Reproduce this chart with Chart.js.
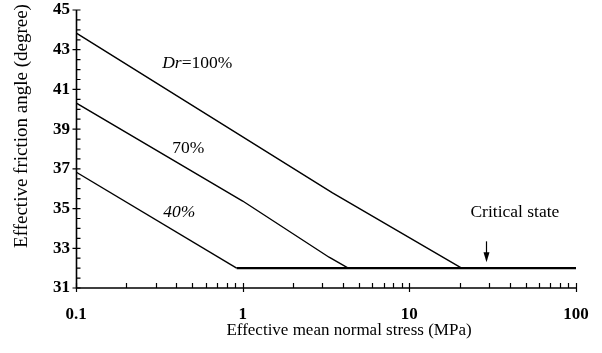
<!DOCTYPE html>
<html>
<head>
<meta charset="utf-8">
<script src="https://cdn.jsdelivr.net/npm/chart.js@4.4.0/dist/chart.umd.min.js"></script>
<style>
  html, body { margin: 0; padding: 0; background: #fff; }
  #wrap { width: 602px; height: 353px; }
</style>
</head>
<body>
<div id="wrap"><canvas id="chart"></canvas></div>
<script>
// data (x = effective mean normal stress in MPa, y = friction angle in degrees)
var dr100X = [0.1, 3.46, 20.6];
var dr100Y = [43.85, 35.79, 32];
var dr70X = [0.1, 1, 3.3, 4.3];
var dr70Y = [40.32, 35.38, 32.55, 32];
var dr40X = [0.1, 0.92];
var dr40Y = [36.84, 32];
var critX = [0.92, 100];
var critY = [32, 32];

// axis ticks
var xMajor = [0.1, 1, 10, 100];
var xMinor = [0.2, 0.3, 0.4, 0.5, 0.6, 0.7, 0.8, 0.9, 2, 3, 4, 5, 6, 7, 8, 9, 20, 30, 40, 50, 60, 70, 80, 90];
var yMajor = [31, 33, 35, 37, 39, 41, 43, 45];
var yMinor = [31.5, 32, 32.5, 33.5, 34, 34.5, 35.5, 36, 36.5, 37.5, 38, 38.5, 39.5, 40, 40.5, 41.5, 42, 42.5, 43.5, 44, 44.5];

// labels on the plot (data coordinates)
var curveLabels = [
  { x: 0.534, y: 42.33, parts: [["Dr", "italic"], ["=100%", "normal"]] },
  { x: 0.472, y: 38.05, parts: [["70%", "normal"]] },
  { x: 0.416, y: 34.83, parts: [["40%", "italic"]] },
  { x: 43, y: 34.8, parts: [["Critical state", "normal"]] }
];
var arrowX = 29;
var arrowTop = 33.35;
var arrowTip = 32.3;

var FONT = "'Liberation Serif', 'Times New Roman', serif";

function toPoints(xs, ys) {
  return xs.map(function(x, i) { return { x: x, y: ys[i] }; });
}

function lineSet(xs, ys, width) {
  return {
    data: toPoints(xs, ys),
    showLine: true,
    borderColor: "#000",
    borderWidth: width,
    pointRadius: 0,
    tension: 0
  };
}

// axes, tick marks, labels, arrow and titles
var decorPlugin = {
  id: "decor",
  afterDraw: function(chart) {
    var ctx = chart.ctx;
    var xs = chart.scales.x;
    var ys = chart.scales.y;
    var area = chart.chartArea;
    var x0 = Math.round(area.left) + 0.5;
    var y0 = Math.round(area.bottom);

    ctx.save();
    ctx.strokeStyle = "#000";
    ctx.lineWidth = 1.6;

    // axis lines
    ctx.beginPath();
    ctx.moveTo(x0, area.top);
    ctx.lineTo(x0, y0);
    ctx.lineTo(area.right, y0);
    ctx.stroke();

    ctx.lineWidth = 1.2;
    ctx.beginPath();
    yMajor.forEach(function(v) {
      var p = ys.getPixelForValue(v);
      ctx.moveTo(x0 - 4, p);
      ctx.lineTo(x0 + 4, p);
    });
    yMinor.forEach(function(v) {
      var p = ys.getPixelForValue(v);
      ctx.moveTo(x0, p);
      ctx.lineTo(x0 + 4, p);
    });
    xMajor.forEach(function(v) {
      var p = Math.round(xs.getPixelForValue(v)) + 0.5;
      ctx.moveTo(p, y0 - 5);
      ctx.lineTo(p, y0 + 4);
    });
    xMinor.forEach(function(v) {
      var p = Math.round(xs.getPixelForValue(v)) + 0.5;
      ctx.moveTo(p, y0 - 5);
      ctx.lineTo(p, y0);
    });
    ctx.stroke();

    // curve labels
    ctx.fillStyle = "#000";
    ctx.textBaseline = "middle";
    curveLabels.forEach(function(lab) {
      var widths = lab.parts.map(function(pt) {
        ctx.font = pt[1] + " 17.5px " + FONT;
        return ctx.measureText(pt[0]).width;
      });
      var total = widths.reduce(function(a, b) { return a + b; }, 0);
      var cx = xs.getPixelForValue(lab.x) - total / 2;
      var cy = ys.getPixelForValue(lab.y);
      ctx.textAlign = "left";
      lab.parts.forEach(function(pt, i) {
        ctx.font = pt[1] + " 17.5px " + FONT;
        ctx.fillText(pt[0], cx, cy);
        cx += widths[i];
      });
    });

    // arrow to the critical state line
    var ax = Math.round(xs.getPixelForValue(arrowX)) + 0.5;
    var aTop = ys.getPixelForValue(arrowTop);
    var aTip = ys.getPixelForValue(arrowTip);
    ctx.lineWidth = 1.2;
    ctx.beginPath();
    ctx.moveTo(ax, aTop);
    ctx.lineTo(ax, aTip - 6);
    ctx.stroke();
    ctx.beginPath();
    ctx.moveTo(ax - 3, aTip - 10);
    ctx.lineTo(ax + 3, aTip - 10);
    ctx.lineTo(ax, aTip);
    ctx.closePath();
    ctx.fill();

    // axis titles
    ctx.font = "17px " + FONT;
    ctx.textAlign = "center";
    ctx.fillText("Effective mean normal stress (MPa)", 349, 331);
    ctx.save();
    ctx.font = "19px " + FONT;
    ctx.translate(22, 126);
    ctx.rotate(-Math.PI / 2);
    ctx.fillText("Effective friction angle (degree)", 0, 0);
    ctx.restore();

    ctx.restore();
  }
};

new Chart(document.getElementById("chart"), {
  type: "scatter",
  data: {
    datasets: [
      lineSet(dr100X, dr100Y, 1.4),
      lineSet(dr70X, dr70Y, 1.4),
      lineSet(dr40X, dr40Y, 1.4),
      lineSet(critX, critY, 2.4)
    ]
  },
  options: {
    responsive: true,
    maintainAspectRatio: false,
    animation: false,
    layout: { padding: { left: 0, top: 10, right: 26, bottom: 0 } },
    plugins: {
      legend: { display: false },
      tooltip: { enabled: false }
    },
    scales: {
      x: {
        type: "logarithmic",
        min: 0.1,
        max: 100,
        grid: { display: false, drawTicks: false },
        border: { display: false },
        afterBuildTicks: function(scale) {
          scale.ticks = xMajor.map(function(v) { return { value: v }; });
        },
        afterFit: function(scale) {
          scale.height = 65;
          scale.paddingLeft = 0;
          scale.paddingRight = 0;
        },
        ticks: {
          autoSkip: false,
          maxRotation: 0,
          padding: 16,
          color: "#000",
          font: { family: FONT, size: 17, weight: "bold" },
          callback: function(v) { return String(v); }
        }
      },
      y: {
        min: 31,
        max: 45,
        grid: { display: false, drawTicks: false },
        border: { display: false },
        afterBuildTicks: function(scale) {
          scale.ticks = yMajor.map(function(v) { return { value: v }; });
        },
        afterFit: function(scale) {
          scale.width = 76;
          scale.paddingTop = 0;
          scale.paddingBottom = 0;
        },
        ticks: {
          autoSkip: false,
          padding: 6,
          color: "#000",
          font: { family: FONT, size: 17, weight: "bold" },
          callback: function(v) { return String(v); }
        }
      }
    }
  },
  plugins: [decorPlugin]
});
</script>
</body>
</html>
